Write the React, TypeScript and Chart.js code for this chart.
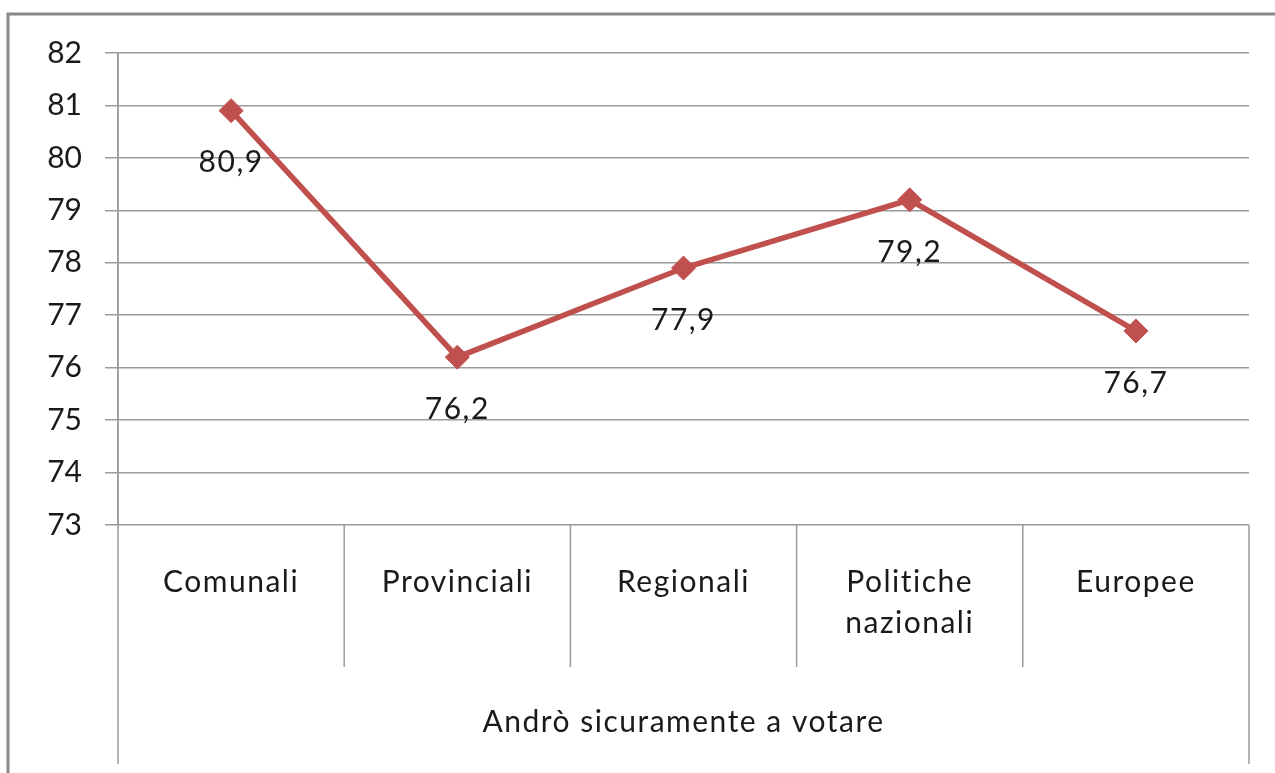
import React, { useEffect, useRef } from "react";
import { Chart, registerables } from "chart.js";

Chart.register(...registerables);

const categories: string[][] = [
  ["Comunali"],
  ["Provinciali"],
  ["Regionali"],
  ["Politiche", "nazionali"],
  ["Europee"],
];
const values: number[] = [80.9, 76.2, 77.9, 79.2, 76.7];
const valueLabels: string[] = ["80,9", "76,2", "77,9", "79,2", "76,7"];
const groupLabel = "Andrò sicuramente a votare";
const yMin = 73;
const yMax = 82;

const FONT = "Lato, 'Open Sans', sans-serif";
const FONT_SIZE = 30;
const TEXT = "#1a1a1a";
const GRID = "#9a9a9a";

const decor = {
  id: "decor",
  afterDraw(chart: any) {
    const ctx = chart.ctx as CanvasRenderingContext2D;
    const ca = chart.chartArea;
    const x = chart.scales.x;
    const n = categories.length;
    ctx.save();
    // outer frame
    ctx.strokeStyle = "#898989";
    ctx.lineWidth = 3;
    ctx.beginPath();
    ctx.moveTo(8, chart.height);
    ctx.lineTo(8, 14);
    ctx.lineTo(chart.width, 14);
    ctx.stroke();

    // category separators
    ctx.strokeStyle = GRID;
    ctx.lineWidth = 1.5;
    const bounds: number[] = [];
    bounds.push(ca.left);
    for (let i = 1; i < n; i++) {
      bounds.push((x.getPixelForValue(i - 1) + x.getPixelForValue(i)) / 2);
    }
    bounds.push(ca.right);
    bounds.forEach((bx, i) => {
      const outer = i === 0 || i === n;
      ctx.beginPath();
      ctx.moveTo(bx, i === 0 ? ca.top : ca.bottom);
      ctx.lineTo(bx, outer ? 764 : 667);
      ctx.stroke();
    });

    // category labels
    ctx.fillStyle = TEXT;
    ctx.font = `${FONT_SIZE}px ${FONT}`;
    (ctx as any).letterSpacing = "1.5px";
    ctx.textAlign = "center";
    ctx.textBaseline = "middle";
    categories.forEach((lines, i) => {
      const cx = x.getPixelForValue(i);
      lines.forEach((t, j) => {
        ctx.fillText(t, cx, ca.bottom + 57 + j * 41);
      });
    });

    // group label
    ctx.fillText(groupLabel, (ca.left + ca.right) / 2, 722);

    // data labels
    const meta = chart.getDatasetMeta(0);
    meta.data.forEach((pt: any, i: number) => {
      ctx.fillText(valueLabels[i], pt.x, pt.y + 52);
    });
    (ctx as any).letterSpacing = "0px";
    ctx.restore();
  },
};

export default function App() {
  const ref = useRef<HTMLCanvasElement | null>(null);
  useEffect(() => {
    document.body.style.margin = "0";
    const canvas = ref.current!;
    const chart = new Chart(canvas, {
      type: "line",
      data: {
        labels: categories.map((c) => c.join(" ")),
        datasets: [
          {
            data: values,
            borderColor: "#C0504D",
            backgroundColor: "#C0504D",
            borderWidth: 5.5,
            pointStyle: "rectRot",
            pointRadius: 12,
            pointHoverRadius: 12,
            pointBorderWidth: 1,
            tension: 0,
          },
        ],
      },
      options: {
        animation: false,
        responsive: false,
        maintainAspectRatio: false,
        events: [],
        layout: { padding: { left: 0, top: 53, right: 26, bottom: 248 } },
        plugins: {
          legend: { display: false },
          tooltip: { enabled: false },
        },
        scales: {
          x: {
            type: "category",
            offset: true,
            display: false,
          },
          y: {
            min: yMin,
            max: yMax,
            afterFit(scale: any) {
              scale.width = 118;
            },
            ticks: {
              stepSize: 1,
              padding: 23,
              color: TEXT,
              font: { family: FONT, size: FONT_SIZE },
            },
            grid: {
              color: GRID,
              lineWidth: 1.5,
              tickLength: 13,
            },
            border: { display: true, color: GRID, width: 1.5 },
          },
        },
      },
      plugins: [decor],
    });
    return () => chart.destroy();
  }, []);
  return <canvas ref={ref} width={1275} height={773} style={{ display: "block" }} />;
}
